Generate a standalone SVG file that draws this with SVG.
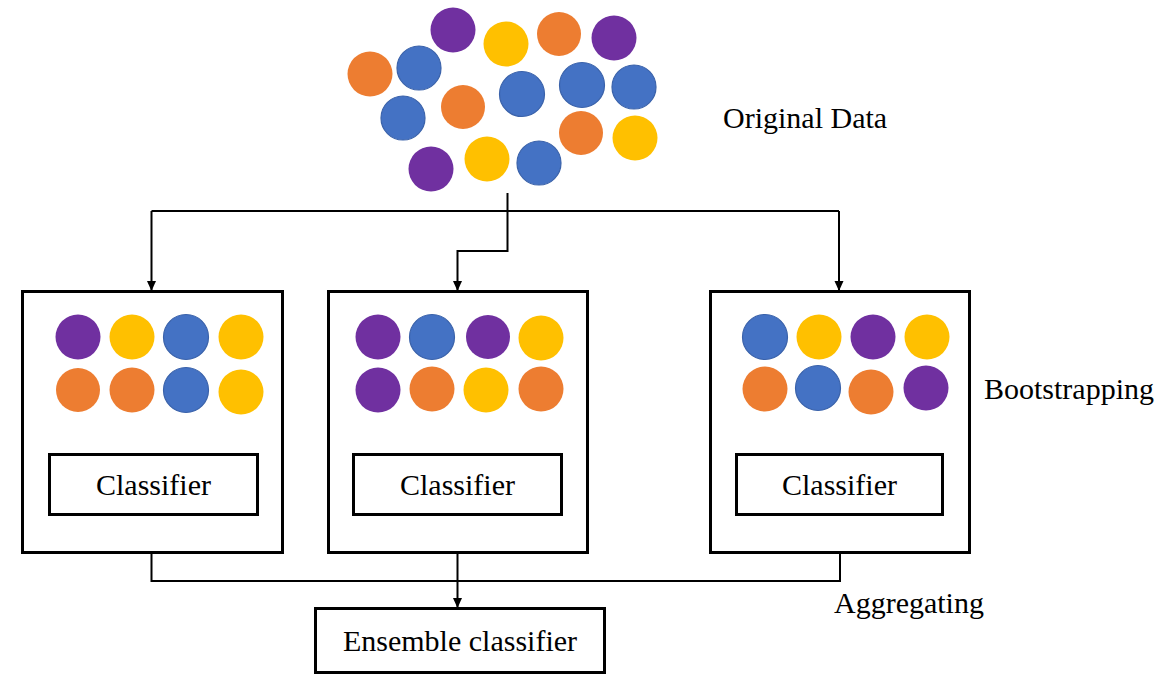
<svg xmlns="http://www.w3.org/2000/svg" width="1173" height="675" viewBox="0 0 1173 675">
  <style>
    .blue { fill: #4472C4; stroke: #3A62AA; stroke-width: 1.2; }
    .orange { fill: #ED7D31; }
    .yellow { fill: #FFC000; }
    .purple { fill: #7030A0; }
    .box { fill: #FFFFFF; stroke: #000000; stroke-width: 3; }
    .wire { fill: none; stroke: #000000; stroke-width: 2; }
    .label { font-size: 30px; fill: #000000; }
    .mid { text-anchor: middle; }
  </style>
  <defs>
    <marker id="arrowDown" markerUnits="userSpaceOnUse" markerWidth="10" markerHeight="12" refX="10" refY="5" orient="auto" viewBox="0 0 11 10">
      <path d="M0,0 L11,5 L0,10 Z" fill="#000000"/>
    </marker>
  </defs>

  <rect width="1173" height="675" fill="#FFFFFF"/>

  <g font-family="Liberation Serif, DejaVu Serif, Times New Roman, serif">
  <!-- pooled samples -->
  <g id="original-data">
    <circle class="purple" cx="453" cy="30" r="22.5"/>
    <circle class="yellow" cx="506" cy="44" r="22.5"/>
    <circle class="orange" cx="559" cy="34" r="22"/>
    <circle class="purple" cx="614" cy="38" r="22.5"/>
    <circle class="orange" cx="370" cy="74" r="22.5"/>
    <circle class="blue" cx="419" cy="68" r="22"/>
    <circle class="blue" cx="403" cy="118" r="22"/>
    <circle class="orange" cx="463" cy="107" r="22"/>
    <circle class="blue" cx="522" cy="94" r="22.5"/>
    <circle class="blue" cx="582" cy="85" r="22.5"/>
    <circle class="blue" cx="634" cy="87" r="22"/>
    <circle class="orange" cx="581" cy="133" r="22"/>
    <circle class="yellow" cx="635" cy="138" r="22.5"/>
    <circle class="purple" cx="431" cy="169" r="22.5"/>
    <circle class="yellow" cx="487" cy="159" r="22.5"/>
    <circle class="blue" cx="539" cy="163" r="22"/>
    <text class="label" x="723" y="128">Original Data</text>
  </g>

  <!-- connectors -->
  <g id="connectors">
    <path class="wire" d="M507.5,193 V211"/>
    <path class="wire" d="M151.5,211 H839" />
    <path class="wire" d="M151.5,211 V290" marker-end="url(#arrowDown)"/>
    <path class="wire" d="M839,211 V290" marker-end="url(#arrowDown)"/>
    <path class="wire" d="M507.5,211 V251 H457.5 V290" marker-end="url(#arrowDown)"/>
    <path class="wire" d="M151.5,553 V581 H840 V553"/>
    <path class="wire" d="M457.5,553 V607" marker-end="url(#arrowDown)"/>
  </g>

  <!-- bootstrap sample 1 -->
  <g id="sample-1">
    <rect class="box" x="22.5" y="291.5" width="260" height="261"/>
    <circle class="purple" cx="78" cy="337" r="22.5"/>
    <circle class="yellow" cx="132" cy="337" r="22.5"/>
    <circle class="blue" cx="186" cy="337" r="22.5"/>
    <circle class="yellow" cx="241" cy="337" r="22.5"/>
    <circle class="orange" cx="78" cy="390" r="22"/>
    <circle class="orange" cx="132" cy="390" r="22.5"/>
    <circle class="blue" cx="186" cy="390" r="22.5"/>
    <circle class="yellow" cx="241" cy="392" r="22.5"/>
    <rect class="box" x="49.5" y="454.5" width="208" height="60"/>
    <text class="label mid" x="153.5" y="495">Classifier</text>
  </g>

  <!-- bootstrap sample 2 -->
  <g id="sample-2">
    <rect class="box" x="328.5" y="291.5" width="259" height="261"/>
    <circle class="purple" cx="378" cy="337" r="22.5"/>
    <circle class="blue" cx="432" cy="337" r="22.5"/>
    <circle class="purple" cx="488" cy="337" r="22"/>
    <circle class="yellow" cx="541" cy="338" r="22.5"/>
    <circle class="purple" cx="378" cy="390" r="22.5"/>
    <circle class="orange" cx="432" cy="389" r="22.5"/>
    <circle class="yellow" cx="486" cy="390" r="22.5"/>
    <circle class="orange" cx="541" cy="389" r="22.5"/>
    <rect class="box" x="353.5" y="454.5" width="208" height="60"/>
    <text class="label mid" x="457.5" y="495">Classifier</text>
  </g>

  <!-- bootstrap sample 3 -->
  <g id="sample-3">
    <rect class="box" x="710.5" y="291.5" width="259" height="261"/>
    <circle class="blue" cx="765" cy="337" r="22.5"/>
    <circle class="yellow" cx="819" cy="337" r="22.5"/>
    <circle class="purple" cx="873" cy="337" r="22.5"/>
    <circle class="yellow" cx="927" cy="337" r="22.5"/>
    <circle class="orange" cx="765" cy="389" r="22.5"/>
    <circle class="blue" cx="818" cy="388" r="22.5"/>
    <circle class="orange" cx="871" cy="392" r="22.5"/>
    <circle class="purple" cx="926" cy="388" r="22.5"/>
    <rect class="box" x="736.5" y="454.5" width="206" height="60"/>
    <text class="label mid" x="839.5" y="495">Classifier</text>
  </g>

  <!-- stage labels -->
  <g id="stage-labels">
    <text class="label" x="984" y="399">Bootstrapping</text>
    <text class="label" x="834" y="613">Aggregating</text>
  </g>

  <!-- combined model -->
  <g id="ensemble">
    <rect class="box" x="315.5" y="608.5" width="289" height="64"/>
    <text class="label mid" x="460" y="651">Ensemble classifier</text>
  </g>
  </g>
</svg>
